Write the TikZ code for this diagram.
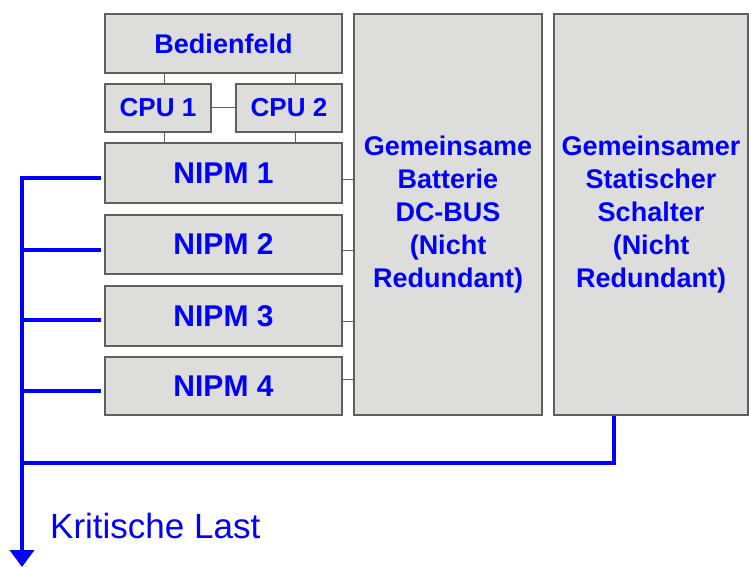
\documentclass[tikz,border=0pt]{standalone}
\usepackage{fontspec}
\setmainfont{Liberation Sans}
\usetikzlibrary{arrows.meta,positioning}
\definecolor{boxgray}{RGB}{221,222,220}
\definecolor{edgegray}{RGB}{95,95,95}
\definecolor{txtblue}{RGB}{0,0,255}

\tikzset{
  unit/.style={draw=edgegray,fill=boxgray,line width=1.2pt,text=txtblue,inner sep=0pt,align=center,
    font=\bfseries\fontsize{27}{33}\selectfont},
  link/.style={edgegray,line width=1pt},
  bus/.style={txtblue,line width=3.8pt},
}

\begin{document}
\begin{tikzpicture}[x=1pt,y=-1pt]
\useasboundingbox (0,0) rectangle (749,567);
% control part
\node[unit,minimum width=237pt,minimum height=59pt] (bed) at (223.5,43.5) {Bedienfeld};
\node[unit,minimum width=106pt,minimum height=48pt,font=\bfseries\fontsize{26}{30}\selectfont] (cpu1) at (158,108) {CPU 1};
\node[unit,minimum width=106pt,minimum height=48pt,font=\bfseries\fontsize{26}{30}\selectfont] (cpu2) at (289,108) {CPU 2};
% power modules
\node[unit,minimum width=237pt,minimum height=60pt,font=\bfseries\fontsize{30}{34}\selectfont] (nipm1) at (223.5,173) {NIPM 1};
\node[unit,minimum width=237pt,minimum height=59pt,font=\bfseries\fontsize{30}{34}\selectfont] (nipm2) at (223.5,244.5) {NIPM 2};
\node[unit,minimum width=237pt,minimum height=60pt,font=\bfseries\fontsize{30}{34}\selectfont] (nipm3) at (223.5,316) {NIPM 3};
\node[unit,minimum width=237pt,minimum height=58pt,font=\bfseries\fontsize{30}{34}\selectfont] (nipm4) at (223.5,386) {NIPM 4};
% common parts
\node[unit,minimum width=188pt,minimum height=401pt] (batt) at (448,214.5) {Gemeinsame\\Batterie\\DC-BUS\\(Nicht\\Redundant)};
\node[unit,minimum width=194pt,minimum height=401pt] (switch) at (651,214.5) {Gemeinsamer\\Statischer\\Schalter\\(Nicht\\Redundant)};
\node[text=txtblue,font=\fontsize{35}{38}\selectfont,anchor=base west,inner sep=0pt] (load) at (50,538) {Kritische Last};

% gray links
\draw[link] ([xshift=6pt]cpu1.north) -- ([xshift=6pt]cpu1.north |- bed.south);
\draw[link] ([xshift=6pt]cpu2.north) -- ([xshift=6pt]cpu2.north |- bed.south);
\draw[link] (cpu1.east) -- (cpu2.west);
\draw[link] ([xshift=6pt]cpu1.south) -- ([xshift=6pt]cpu1.south |- nipm1.north);
\draw[link] ([xshift=6pt]cpu2.south) -- ([xshift=6pt]cpu2.south |- nipm1.north);
\path ([yshift=-6pt]nipm1.east) coordinate (b1); \path ([yshift=-5.5pt]nipm2.east) coordinate (b2);
\path ([yshift=-5pt]nipm3.east) coordinate (b3); \path ([yshift=7pt]nipm4.east) coordinate (b4);
\draw[link] (b1) -- (b1 -| batt.west); \draw[link] (b2) -- (b2 -| batt.west);
\draw[link] (b3) -- (b3 -| batt.west); \draw[link] (b4) -- (b4 -| batt.west);

% blue load bus
\coordinate (bottom) at (22,567); \coordinate (join) at (22,463);
\path ([yshift=-5pt]nipm1.west) coordinate (n1); \path ([yshift=-5.5pt]nipm2.west) coordinate (n2);
\path ([yshift=-4pt]nipm3.west) coordinate (n3); \path ([yshift=-5pt]nipm4.west) coordinate (n4);
\draw[bus,shorten <=3pt,-{Triangle[width=24pt,length=17pt]}] (n1) -| (bottom);
\draw[bus,shorten >=3pt] (n2 -| bottom) -- (n2);
\draw[bus,shorten >=3pt] (n3 -| bottom) -- (n3);
\draw[bus,shorten >=3pt] (n4 -| bottom) -- (n4);
\draw[bus] ([xshift=-37pt]switch.south) |- (join);
\end{tikzpicture}
\end{document}
